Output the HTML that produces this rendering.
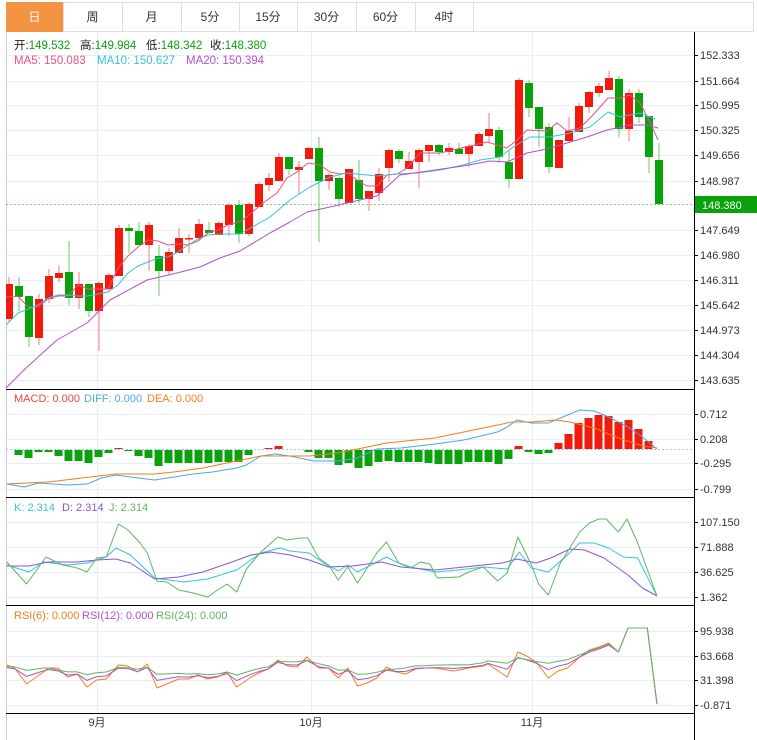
<!DOCTYPE html>
<html><head><meta charset="utf-8"><style>
body{margin:0;background:#fff;width:757px;height:740px;overflow:hidden;font-family:"Liberation Sans","Noto Sans CJK SC",sans-serif;}
svg{display:block}
</style></head><body>
<svg id="s" width="757" height="740" xmlns="http://www.w3.org/2000/svg" font-family="Liberation Sans, Noto Sans CJK SC, sans-serif"></svg>
<script>
const S=document.getElementById('s');let h='';
function L(x1,y1,x2,y2,c,w,extra){h+=`<line x1="${x1}" y1="${y1}" x2="${x2}" y2="${y2}" stroke="${c}" stroke-width="${w||1}" ${extra||''}/>`;}
function R(x,y,w,hh,c){h+=`<rect x="${x}" y="${y}" width="${w}" height="${hh}" fill="${c}"/>`;}
function T(x,y,t,c,sz,anchor){h+=`<text x="${x}" y="${y}" fill="${c}" font-size="${sz||11}" ${anchor?'text-anchor="'+anchor+'"':''}>${t}</text>`;}
function P(pts,c,w){h+=`<polyline fill="none" stroke="${c}" stroke-width="${w||1}" stroke-linejoin="round" points="${pts.map(p=>p[0].toFixed(1)+','+p[1].toFixed(1)).join(' ')}"/>`;}
h+=`<rect x="6.5" y="2.5" width="747" height="29" fill="#fff" stroke="#ddd"/>`;
const tb=[6,63,122,181,239,297,356,415,473],tn=['日','周','月','5分','15分','30分','60分','4时'];
R(6,2,57,30,'#f39443');
for(let i=0;i<8;i++){if(i>0)L(tb[i]+.5,2,tb[i]+.5,31,'#ddd');T((tb[i]+tb[i+1])/2,21,tn[i],i==0?'#fff':'#333',12,'middle');}
L(tb[8]+.5,2,tb[8]+.5,31,'#ddd');
const grid='#e8eef3';
[55,81,105,130,155,181,230,255,280,305,330,355,380, 414,439,463,489, 522,547,572,597, 631,656,680,705].forEach(y=>L(6,y+.5,694,y+.5,grid));
[97,311,532].forEach(x=>L(x+.5,32,x+.5,713,grid));
L(6.5,32,6.5,740,'#ccc');
[389,497,605,713].forEach(y=>L(6,y+.5,694,y+.5,'#000'));
L(694.5,32,694.5,740,'#000');
function ax(y,t){L(694,y+.5,698,y+.5,'#000');T(700,y+4,t,'#333',11);}
[[55,'152.333'],[81,'151.664'],[105,'150.995'],[130,'150.325'],[155,'149.656'],[181,'148.987'],[230,'147.649'],[255,'146.980'],[280,'146.311'],[305,'145.642'],[330,'144.973'],[355,'144.304'],[380,'143.635'],
[414,'0.712'],[439,'0.208'],[463,'-0.295'],[489,'-0.799'],[522,'107.150'],[547,'71.888'],[572,'36.625'],[597,'1.362'],[631,'95.938'],[656,'63.668'],[680,'31.398'],[705,'-0.871']].forEach(a=>ax(a[0],a[1]));
L(6,204.5,694,204.5,'#7fcf7f',1,'stroke-dasharray="2,2"');
R(695,196,62,17,'#0ba10b');T(702,209,'148.380','#fff',11);
const C=[[277,284,319,322,'r'],[277,286,297,311,'g'],[296,296,337,347,'g'],[294,299,338,345,'r'],[269,276,299,303,'r'],[265,273,278,282,'r'],[241,272,298,305,'g'],[272,284,298,309,'r'],[284,284,311,317,'g'],[281,283,311,351,'r'],
[273,275,289,292,'r'],[225,228,276,276,'r'],[224,228,231,253,'g'],[222,231,245,245,'g'],[222,225,245,271,'r'],[245,256,271,296,'g'],[248,252,271,275,'r'],[228,238,253,253,'r'],[234,238,239,253,'r'],[219,224,238,241,'r'],
[222,230,233,233,'g'],[221,223,235,235,'r'],[203,205,225,236,'r'],[200,205,234,243,'g'],[202,204,234,236,'r'],[182,184,207,207,'r'],[173,178,185,191,'r'],[153,157,181,181,'r'],[157,157,169,175,'g'],[161,167,170,194,'r'],
[147,148,159,159,'r'],[137,148,181,242,'g'],[173,175,181,190,'r'],[177,178,199,207,'g'],[169,169,203,203,'r'],[160,180,199,203,'g'],[191,191,199,211,'r'],[168,174,193,201,'r'],[149,150,168,182,'r'],[149,151,159,163,'g'],
[152,161,169,169,'r'],[148,150,162,188,'r'],[145,145,151,162,'r'],[144,145,152,155,'g'],[143,148,152,155,'r'],[143,149,154,154,'g'],[144,146,154,167,'r'],[132,134,146,146,'r'],[113,129,136,142,'r'],[127,130,157,163,'g'],
[150,162,179,188,'g'],[78,80,179,179,'r'],[80,83,108,117,'g'],[107,107,129,147,'g'],[123,127,167,173,'g'],[140,140,168,168,'r'],[117,131,141,143,'r'],[103,106,132,132,'r'],[91,92,107,113,'r'],[83,86,93,97,'r'],
[71,78,90,90,'r'],[76,79,129,137,'g'],[89,93,129,141,'r'],[89,93,117,123,'g'],[116,116,157,173,'g'],[143,160,204,204,'g']];
C.forEach((c,i)=>{const x=8.5+10*i;const col=c[4]=='r'?'#f21a0a':'#0aa20a';const wc=c[4]=='r'?'#f77':'#6c6';
L(x+.5,c[0],x+.5,c[3],wc);const bx=Math.max(6,x-3.5);R(bx,c[1],x+4.5-bx,Math.max(1.5,c[2]-c[1]),col);});
P([[6,297],[18,296],[28,307],[38,307],[48,299],[58,296],[68,296],[78,285],[88,289],[98,289],[108,289],[118,268],[128,256],[138,247],[148,240],[158,241],[168,245],[178,244],[188,245],[198,241],[208,233],[218,230],[228,225],[238,222],[243,220],[263,203],[277,193],[287,178],[297,172],[308,163],[320,165],[330,172],[340,174],[348,173],[357,180],[367,186],[377,186],[387,175],[397,174],[407,168],[420,153],[440,153],[470,146],[487,142],[507,148],[517,140],[527,130],[547,131],[557,123],[567,131],[580,128],[593,115],[608,98],[620,98],[630,95],[640,103],[648,118],[658,140]],'#ec4d85');
P([[6,325],[18,313],[28,309],[38,305],[48,298],[58,295],[68,295],[78,296],[88,296],[98,294],[108,292],[118,285],[128,273],[138,266],[148,262],[158,258],[168,257],[178,252],[188,245],[198,239],[208,235],[218,234],[230,234],[240,234],[270,217],[290,200],[310,187],[330,177],[347,173],[377,176],[397,174],[417,173],[440,170],[463,165],[480,160],[500,157],[513,147],[530,137],[550,137],[570,133],[590,127],[608,112],[620,117],[640,113],[655,119]],'#37c3dd');
P([[6,388],[26,368],[57,340],[87,323],[110,300],[147,280],[177,273],[200,267],[220,258],[240,251],[270,233],[290,222],[307,212],[330,207],[347,203],[377,196],[400,175],[463,166],[490,161],[507,162],[527,153],[547,149],[567,143],[587,137],[607,130],[630,125],[647,125],[658,128]],'#b34fcc');
[['开:','149.532'],['高:','149.984'],['低:','148.342'],['收:','148.380']].forEach((a,i)=>{h+=`<text x="${[14,80,146,210][i]}" y="49" font-size="11.5"><tspan fill="#222">${a[0]}</tspan><tspan fill="#0aa20a">${a[1]}</tspan></text>`;});
T(14,64,'MA5: 150.083','#ec4d85',11.5);T(97,64,'MA10: 150.627','#37c3dd',11.5);T(186,64,'MA20: 150.394','#b34fcc',11.5);
L(6,449.5,694,449.5,'#9cd',1,'stroke-dasharray="2,2"');
const M=[[18,455],[28,458],[38,452],[48,452],[58,456],[68,461],[78,461],[88,463],[98,457],[108,453],[118,448,1],[128,451],[138,456],[148,458],[158,466],[168,463],[178,463],[188,463],[198,463],[208,463],[218,462],[228,462],[238,462],[248,455],[258,450],[268,448,1],[278,446,1],[298,450],[308,452],[318,458],[328,458],[338,465],[348,463],[358,468],[368,466],[378,462],[388,461],[398,462],[408,462],[418,462],[428,463],[438,464],[448,464],[458,464],[468,462],[478,462],[488,462],[498,464],[508,459],[518,446,1],[528,452],[538,454],[548,453],[558,443,1],[568,434,1],[578,423,1],[588,418,1],[598,415,1],[608,416,1],[618,422,1],[628,420,1],[638,429,1],[648,441,1]];
M.forEach(m=>{const x=m[0]+.5;if(m[2]){R(x-4,m[1],8,449-m[1],'#f21a0a');}else{R(x-4,450,8,m[1]-450,'#0aa20a');}});
const sx=a=>a.map(p=>[p[0]/2.07,p[1]]);
P(sx([[14,484],[50,487],[80,483],[140,485],[180,484],[210,478],[240,475],[270,477],[320,480],[360,477],[400,474],[440,472],[490,468],[510,465],[540,456],[570,454],[600,456],[650,461],[700,461],[740,458],[780,449],[830,448],[900,444],[960,440],[1030,432],[1050,427],[1070,420],[1100,423],[1135,423],[1160,418],[1200,410],[1230,411],[1260,417],[1300,427],[1330,437],[1360,449]]),'#4aa8e8');
P(sx([[14,484],[100,482],[240,474],[320,474],[360,472],[420,468],[480,462],[540,456],[640,456],[700,453],[740,449],[800,443],[900,438],[1000,428],[1060,422],[1100,422],[1150,420],[1180,422],[1230,428],[1280,438],[1330,446],[1360,448]]),'#f77b1c');
T(14,402,'MACD: 0.000','#f0463c',11);T(84,402,'DIFF: 0.000','#4aa8e8',11);T(147,402,'DEA: 0.000','#f77b1c',11);
P(sx([[14,565],[60,572],[90,562],[140,565],[180,563],[220,557],[240,548],[270,555],[320,578],[380,582],[430,579],[490,570],[540,553],[580,548],[600,551],[640,553],[670,563],[700,571],[720,565],[740,572],[800,557],[820,562],[850,567],[900,572],[950,570],[1000,567],[1050,569],[1075,552],[1100,568],[1135,572],[1170,557],[1200,543],[1230,543],[1260,548],[1290,557],[1320,558],[1360,596]]),'#37c3dd');
P(sx([[14,566],[60,566],[100,562],[160,562],[200,560],[240,559],[270,563],[320,579],[370,577],[420,572],[480,562],[520,555],[560,552],[600,555],[640,560],[680,567],[730,566],[790,562],[830,567],[900,570],[960,567],[1040,563],[1070,559],[1110,563],[1140,558],[1180,549],[1210,550],[1250,558],[1300,575],[1330,588],[1360,596]]),'#8a55d8');
P(sx([[14,562],[55,584],[95,557],[130,565],[160,568],[180,572],[200,558],[220,557],[245,524],[265,530],[290,543],[305,553],[325,581],[345,582],[370,590],[400,593],[430,597],[450,590],[470,584],[490,592],[510,569],[540,552],[575,537],[595,540],[620,538],[637,538],[660,558],[680,565],[700,580],[720,567],[740,583],[780,553],[800,542],[825,563],[850,568],[870,562],[890,564],[905,578],[950,577],[970,572],[1000,567],[1030,581],[1050,573],[1072,537],[1100,565],[1115,584],[1135,595],[1160,563],[1200,532],[1220,523],[1240,519],[1255,519],[1280,532],[1298,519],[1320,543],[1360,596]]),'#5cb85c');
T(14,511,'K: 2.314','#37c3dd',11);T(62,511,'D: 2.314','#8a55d8',11);T(109,511,'J: 2.314','#5cb85c',11);
const r6=[[14,665],[30,668],[55,684],[90,672],[100,668],[120,668],[140,677],[160,674],[180,687],[200,680],[220,679],[245,665],[265,666],[285,672],[305,664],[325,688],[370,679],[390,679],[410,675],[430,679],[450,677],[470,672],[490,687],[520,677],[540,672],[555,669],[575,660],[595,666],[615,667],[635,657],[660,668],[680,668],[700,678],[720,668],[740,686],[760,683],[780,678],[800,667],[820,672],[840,674],[860,669],[880,668],[900,668],[940,671],[970,668],[1000,666],[1010,664],[1050,677],[1072,652],[1090,656],[1110,662],[1135,678],[1155,671],[1175,668],[1200,657],[1220,650],[1240,647],[1260,643],[1280,652],[1300,628],[1340,628],[1360,704]];
const n=r6.length;
function sm(k,base){return r6.map((p,i)=>{if(i>=n-4)return p;let s=0,c=0;for(let j=i-3;j<=i+3;j++)if(j>=0&&j<n-4){s+=r6[j][1];c++;}return [p[0],p[1]*(1-k)+(s/c+base)*k];});}
P(sx(r6),'#f77b1c');
P(sx(sm(0.5,-2)),'#b34fcc');
P(sx(sm(0.75,-5)),'#5cb85c');
T(14,619,'RSI(6): 0.000','#f77b1c',11);T(82,619,'RSI(12): 0.000','#b34fcc',11);T(156,619,'RSI(24): 0.000','#5cb85c',11);
T(97,726,'9月','#333',11,'middle');T(311,726,'10月','#333',11,'middle');T(532,726,'11月','#333',11,'middle');
S.innerHTML=h;
</script>
</body></html>
